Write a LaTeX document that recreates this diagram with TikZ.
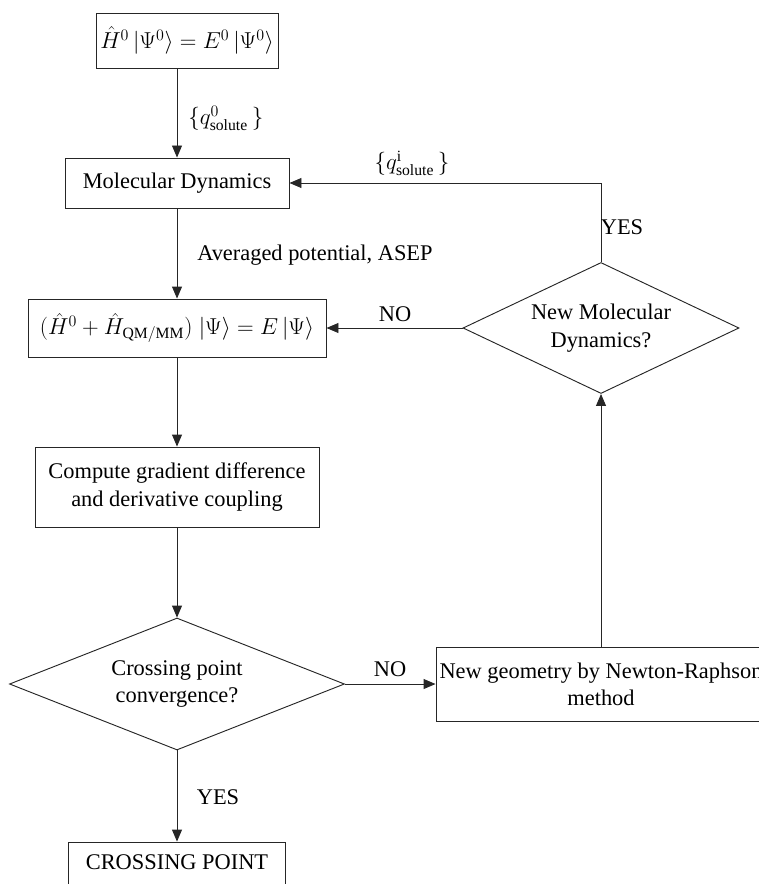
\documentclass[tikz,border=0pt]{standalone}
\usepackage{fontspec}
\setmainfont{Liberation Serif}
\usetikzlibrary{arrows.meta,shapes.geometric}
\begin{document}
\begin{tikzpicture}[x=0.75pt,y=-0.75pt,
  every node/.style={font=\fontsize{16.8}{20.5}\selectfont},
  box/.style={draw=black!85, line width=0.7pt, rectangle, inner sep=0pt, align=center},
  dia/.style={draw=black!85, line width=0.7pt, diamond, inner sep=0pt, align=center},
  arr/.style={draw=black!85, line width=0.7pt, -{Triangle[length=9pt,width=7.5pt]}},
  lbl/.style={inner sep=0pt}]
\useasboundingbox (0,0) rectangle (758,884);
% boxes
\node[box, minimum width=136.5pt, minimum height=41.25pt] (top) at (187,40.5) {$\hat{H}^0\,|\Psi^0\rangle = E^0\,|\Psi^0\rangle$};
\node[box, minimum width=168pt, minimum height=37.5pt] (md) at (177,183) {Molecular Dynamics};
\node[box, minimum width=223.5pt, minimum height=43.5pt] (ham) at (177,328) {$(\hat{H}^0+\hat{H}_{\mathrm{QM/MM}})\;|\Psi\rangle = E\,|\Psi\rangle$};
\node[box, minimum width=213pt, minimum height=60pt] (grad) at (177,487) {Compute gradient difference\\and derivative coupling};
\node[dia, minimum width=251.25pt, minimum height=99pt, aspect=2.54] (conv) at (177,684) {Crossing point\\convergence?};
\node[box, minimum width=162.75pt, text height=20.6pt, text depth=20pt, anchor=base] (cp) at (177,869.5) {CROSSING POINT};
\node[box, minimum width=247.5pt, minimum height=55.5pt] (newt) at (601,684) {New geometry by Newton-Raphson\\method};
\node[dia, minimum width=207pt, minimum height=98.25pt, aspect=2.1] (newmd) at (601,328) {New Molecular\\Dynamics?};
% connectors
\draw[arr] (top.south -| md.north) -- (md.north);
\draw[arr] (md) -- (ham);
\draw[arr] (ham) -- (grad);
\draw[arr] (grad) -- (conv);
\draw[arr] (conv) -- (cp.north);
\draw[arr] (conv) -- (newt);
\draw[arr] (newt) -- (newmd);
\draw[arr] (newmd) -- (ham);
\draw[arr] (newmd.north) |- (md.east);
% labels
\node[lbl, anchor=west] (q0) at (188,118) {$\{q^0_{\mathrm{solute}}\,\}$};
\node[lbl] (qi) at (412,163) {$\{q^{\mathrm{i}}_{\mathrm{solute}}\,\}$};
\node[lbl] (yes1) at (622,227) {YES};
\node[lbl, anchor=west] (avg) at (197,255) {Averaged potential, ASEP};
\node[lbl] (no1) at (395,314) {NO};
\node[lbl] (no2) at (390,669) {NO};
\node[lbl] (yes2) at (218,797) {YES};
\end{tikzpicture}
\end{document}
